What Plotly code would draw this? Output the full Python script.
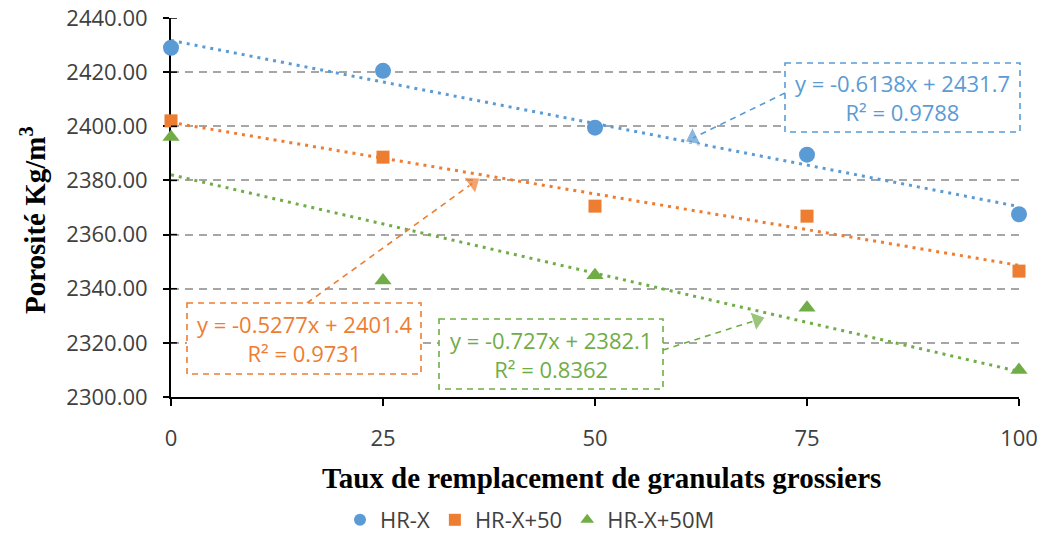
import plotly.graph_objects as go

# Replacement rate of coarse aggregates (%)
taux = [0, 25, 50, 75, 100]

# Measured values for each mix
hr_x = [2429.0, 2420.5, 2399.5, 2389.5, 2367.5]
hr_x50 = [2402.0, 2388.6, 2370.5, 2366.8, 2346.5]
hr_x50m = [2396.0, 2343.0, 2345.0, 2333.0, 2310.0]

series_names = ["HR-X", "HR-X+50", "HR-X+50M"]
series_values = [hr_x, hr_x50, hr_x50m]
colors = ["#5B9BD5", "#ED7D31", "#70AD47"]
symbols = ["circle", "square", "triangle-up"]
marker_sizes = [16, 13, 15]

# Linear trend coefficients and R² shown in the labels
slopes = [-0.6138, -0.5277, -0.727]
intercepts = [2431.7, 2401.4, 2382.1]
r2_values = ["0.9788", "0.9731", "0.8362"]

y_ticks = [2300, 2320, 2340, 2360, 2380, 2400, 2420, 2440]
y_tick_labels = ["2300.00", "2320.00", "2340.00", "2360.00",
                 "2380.00", "2400.00", "2420.00", "2440.00"]
x_ticks = [0, 25, 50, 75, 100]

# Plot-area geometry in pixels
W, H = 1045, 559
L, R, T, B = 171, 1019, 18, 397
X0, X1 = 0, 100
Y0, Y1 = 2300, 2440


def px2x(px):
    return X0 + (px - L) / (R - L) * (X1 - X0)


def py2y(py):
    return Y1 - (py - T) / (B - T) * (Y1 - Y0)


def px2paper(px):
    return (px - L) / (R - L)


def py2paper(py):
    return (B - py) / (B - T)


fig = go.Figure()

# Dotted linear trend lines
for name, a, b, c in zip(series_names, slopes, intercepts, colors):
    fig.add_trace(go.Scatter(
        x=[X0, X1], y=[a * X0 + b, a * X1 + b], mode="lines",
        line=dict(color=c, width=3, dash="3px,5px"),
        showlegend=False, hoverinfo="skip", cliponaxis=False,
    ))

# Equation boxes (pixel extents) and their callout arrows
boxes = [(785, 63, 1020, 132), (187, 303, 421, 374), (439, 319, 663, 389)]
arrows = [((785, 93), (693, 138)), ((307, 303), (473, 183)), ((663, 350), (757, 320))]

for (x0, y0, x1, y1), ((sx, sy), (ex, ey)), c, a, b, r2 in zip(
        boxes, arrows, colors, slopes, intercepts, r2_values):
    fig.add_shape(type="rect", xref="paper", yref="paper",
                  x0=px2paper(x0), x1=px2paper(x1), y0=py2paper(y0), y1=py2paper(y1),
                  line=dict(color=c, width=1.6, dash="6px,5px"),
                  fillcolor="white", opacity=1, layer="above")
    fig.add_trace(go.Scatter(
        x=[px2x(sx), px2x(ex)], y=[py2y(sy), py2y(ey)],
        mode="lines+markers",
        line=dict(color=c, width=1.6, dash="6px,5px"),
        marker=dict(symbol="triangle-up", size=[0, 17], color=c,
                    angleref="previous"),
        showlegend=False, hoverinfo="skip", cliponaxis=False,
    ))
    sign = "-" if a < 0 else "+"
    text = f"y = {sign}{abs(a)}x + {b}<br>R² = {r2}"
    fig.add_annotation(
        x=px2paper((x0 + x1) / 2), y=py2paper((y0 + y1) / 2),
        xref="paper", yref="paper",
        text=text, showarrow=False, align="center",
        xanchor="center", yanchor="middle",
        font=dict(family="Open Sans", size=22, color=c),
    )

# Data markers
for name, vals, c, s, ms in zip(series_names, series_values, colors, symbols, marker_sizes):
    fig.add_trace(go.Scatter(
        x=taux, y=vals, mode="markers", name=name,
        marker=dict(symbol=s, size=ms, color=c),
        cliponaxis=False,
    ))

# Y tick marks crossing the axis line
for yt in y_ticks[1:]:
    fig.add_shape(type="line", xref="paper", yref="y",
                  x0=0, x1=6 / (R - L), y0=yt, y1=yt,
                  line=dict(color="black", width=1.5))

fig.update_layout(
    width=W, height=H,
    margin=dict(l=L, r=W - R, t=T, b=H - B, autoexpand=False),
    plot_bgcolor="white", paper_bgcolor="white",
    showlegend=True,
    legend=dict(orientation="h", x=(530 - L) / (R - L), xanchor="center",
                y=(B - 520) / (B - T), yanchor="middle",
                font=dict(family="Open Sans", size=22, color="#404040"),
                itemsizing="constant", itemwidth=30, tracegroupgap=0),
    xaxis=dict(range=[X0, X1], tickvals=x_ticks, ticktext=[str(t) for t in x_ticks],
               showgrid=False, zeroline=False, showline=True, linecolor="black",
               linewidth=2, ticks="outside", ticklen=7, tickwidth=1.5,
               tickcolor="black", ticklabelstandoff=14,
               tickfont=dict(family="Open Sans", size=22, color="#404040"),
               layer="below traces"),
    yaxis=dict(range=[Y0, Y1], tickvals=y_ticks, ticktext=y_tick_labels,
               showgrid=True, gridcolor="#A6A6A6", gridwidth=1.5, griddash="8px,6px",
               zeroline=False, showline=True, linecolor="black", linewidth=2,
               ticks="outside", ticklen=6, tickwidth=1.5, tickcolor="black",
               ticklabelstandoff=11,
               tickfont=dict(family="Open Sans", size=22, color="#404040"),
               layer="below traces"),
)

# Axis titles
fig.add_annotation(
    x=(601 - L) / (R - L), y=(B - 478) / (B - T), xref="paper", yref="paper",
    text="<b>Taux de remplacement de granulats grossiers</b>", showarrow=False,
    xanchor="center", yanchor="middle",
    font=dict(family="Liberation Serif", size=29, color="black"),
)
fig.add_annotation(
    x=(33 - L) / (R - L), y=(B - 220) / (B - T), xref="paper", yref="paper",
    text="<b>Porosité Kg/m<sup>3</sup></b>", showarrow=False, textangle=-90,
    xanchor="center", yanchor="middle",
    font=dict(family="Liberation Serif", size=29, color="black"),
)

fig.write_html("out.html")
